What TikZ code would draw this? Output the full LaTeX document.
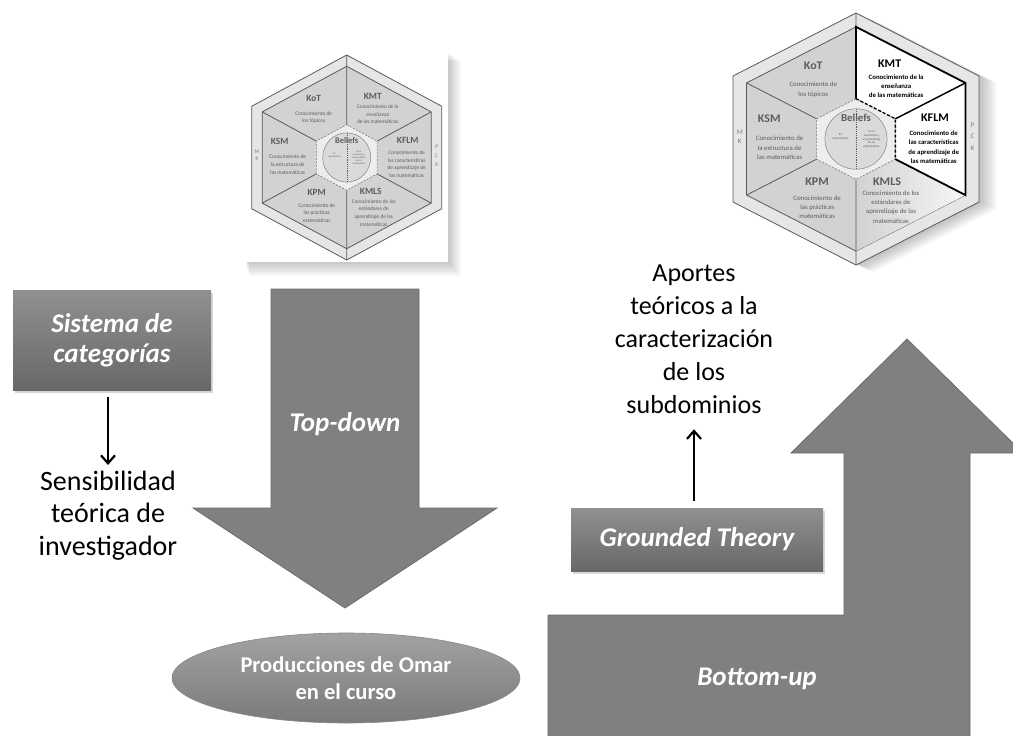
\documentclass[tikz,border=0pt]{standalone}
\usepackage{fontspec}
\setmainfont{Carlito}
\usetikzlibrary{arrows.meta,shapes.geometric,shadows}

\definecolor{arrowgray}{HTML}{808080}
\definecolor{arrowedge}{HTML}{6C6C6C}
\definecolor{boxtop}{HTML}{909090}
\definecolor{boxbot}{HTML}{686868}
\definecolor{ovaltop}{HTML}{A2A2A2}
\definecolor{ovalbot}{HTML}{7A7A7A}
\definecolor{hexband}{HTML}{E6E6E6}
\definecolor{hexfill}{HTML}{D2D2D2}
\definecolor{hexline}{HTML}{5A5A5A}
\definecolor{hexcore}{HTML}{EDEDED}
\definecolor{hexcircle}{HTML}{DADADA}
\definecolor{hextext}{HTML}{5C5C5C}

% MTSK hexagon: #1,#2 centre, #3,#4 x/y scale, #5 = 1 highlights KMT and KFLM, #6 name prefix
\newcommand\mtskhex[6]{%
\begin{scope}[shift={(#1,#2)}, xscale=#3, yscale=#4, transform shape]
  \ifnum#5=1
    \tikzset{hllabel/.style={text=black}, hldesc/.style={text=black, font=\bfseries\fontsize{5.3}{7.4}\selectfont}}
    \foreach \k in {1,...,8}
      \fill[black, opacity=0.03] (\k*1.7,-100+\k*0.7)--(95+\k*1.7,-50+\k*0.7)--(95+\k*1.7,50+\k*0.7)
        --(\k*1.7,100+\k*0.7)--(-95+\k*1.7,50+\k*0.7)--(-95+\k*1.7,-50+\k*0.7)--cycle;
  \else
    \tikzset{hllabel/.style={}, hldesc/.style={}}
  \fi
  % outer band and inner field
  \filldraw[fill=hexband, draw=hexline, line width=0.8pt]
    (0,-100)--(95,-50)--(95,50)--(0,100)--(-95,50)--(-95,-50)--cycle;
  \filldraw[fill=hexfill, draw=hexline, line width=0.8pt]
    (0,-89)--(84.5,-44.5)--(84.5,44.5)--(0,89)--(-84.5,44.5)--(-84.5,-44.5)--cycle;
  \ifnum#5=1
    \fill[white] (0,-32)--(0,-89)--(84.5,-44.5)--(84.5,44.5)--(30.4,16)--(30.4,-16)--cycle;
    \shade[left color=hexfill, right color=white!80!hexfill]
      (30.4,16)--(84.5,44.5)--(0,89)--(0,32)--cycle;
  \fi
  % spokes between the subdomains
  \draw[hexline, line width=0.8pt]
    (0,-100)--(0,-32) (84.5,-44.5)--(30.4,-16) (84.5,44.5)--(30.4,16)
    (0,100)--(0,32) (-84.5,44.5)--(-30.4,16) (-84.5,-44.5)--(-30.4,-16);
  % beliefs core
  \filldraw[fill=hexcore, draw=hexline!85, line width=0.6pt, dash pattern=on 2pt off 1.5pt]
    (0,-32)--(30.4,-16)--(30.4,16)--(0,32)--(-30.4,16)--(-30.4,-16)--cycle;
  \filldraw[fill=hexcircle, draw=hexline!75, line width=0.5pt] (0,0) circle (24);
  \draw[hexline, line width=0.4pt, dash pattern=on 1.2pt off 1pt] (0,-24)--(0,24);
  \ifnum#5=1
    \draw[black, line width=1.8pt, line join=miter]
      (0,-32)--(0,-89)--(84.5,-44.5)--(84.5,44.5)--(30.4,16);
    \draw[black, line width=1.4pt] (84.5,-44.5)--(30.4,-16);
    \draw[black, line width=1.3pt, dash pattern=on 3pt off 2pt] (0,-32)--(30.4,-16)--(30.4,16);
  \fi
  % subdomain texts
  \node[hexlabel] (#6-kot) at (-33,-58) {KoT};
  \node[hexdesc] (#6-kotd) at (-33,-39) {Conocimiento de\\los tópicos};
  \node[hexlabel,hllabel] (#6-kmt) at (26,-60) {KMT};
  \node[hexdesc,hldesc] (#6-kmtd) at (31,-42) {Conocimiento de la\\enseñanza\\de las matemáticas};
  \node[hexlabel] (#6-ksm) at (-67,-16) {KSM};
  \node[hexdesc] (#6-ksmd) at (-59,7) {Conocimiento de\\la estructura de\\las matemáticas};
  \node[hexlabel,hllabel] (#6-kflm) at (61,-17) {KFLM};
  \node[hexdesc,hldesc] (#6-kflmd) at (60,6.5) {Conocimiento de\\las características\\de aprendizaje de\\las matemáticas};
  \node[hexlabel] (#6-kpm) at (-30,34) {KPM};
  \node[hexdesc] (#6-kpmd) at (-30,54) {Conocimiento de\\las prácticas\\matemáticas};
  \node[hexlabel] (#6-kmls) at (24,33.5) {KMLS};
  \node[hexdesc] (#6-kmlsd) at (27,54) {Conocimiento de los\\estándares de\\aprendizaje de las\\matemáticas};
  \node[belief] (#6-bel) at (0,-17) {Beliefs};
  \node[tinytext] (#6-bm) at (-12,-2) {En\\matemáticas};
  \node[tinytext] (#6-be) at (12,0) {En la\\enseñanza y\\el aprendizaje\\de las\\matemáticas};
  \node[bandtext] (#6-mk) at (-89.7,-2) {M\\K};
  \node[bandtext, font=\fontsize{5.5}{9}\selectfont] (#6-pck) at (90,-2) {P\\C\\K};
\end{scope}}

\begin{document}
\begin{tikzpicture}[x=1pt, y=-1pt,
  bigarrow/.style={fill=arrowgray, draw=arrowedge, line width=0.8pt, line join=miter},
  catbox/.style={rectangle, top color=boxtop, bottom color=boxbot, text=white,
    font=\bfseries\itshape\fontsize{27}{30}\selectfont, align=center, inner sep=0pt,
    drop shadow={shadow xshift=1.5pt, shadow yshift=-2.5pt, opacity=0.3}},
  arrowtext/.style={text=white, font=\bfseries\itshape\fontsize{27}{30}\selectfont, inner sep=0pt},
  plaintext/.style={align=center, inner sep=0pt, text=black},
  link/.style={line width=2.2pt, -{Straight Barb[length=8pt,width=14pt,line width=2.2pt]}},
  hexlabel/.style={font=\bfseries\fontsize{9.3}{10}\selectfont, text=hextext, inner sep=0pt},
  hexdesc/.style={font=\fontsize{5.3}{7.4}\selectfont, text=hextext, align=center, inner sep=0pt},
  belief/.style={font=\bfseries\fontsize{8.4}{9}\selectfont, text=hextext, inner sep=0pt},
  tinytext/.style={font=\fontsize{2.4}{3}\selectfont, text=hextext, align=center, inner sep=0pt},
  bandtext/.style={font=\fontsize{5.5}{7}\selectfont, text=hextext!80, align=center, inner sep=0pt}]
\useasboundingbox (0,0) rectangle (1013,736);
\fill[white] (0,0) rectangle (1013,736);
\begin{scope}
\clip (0,0) rectangle (1013,736);

% framed model picture with soft shadow
\foreach \k in {1,...,7}
  \fill[black, opacity=0.03] (245+\k*0.6,52+\k*1.3) rectangle (448+\k*1.8,262+\k*2);
\fill[white] (245,52) rectangle (448,262);
\mtskhex{346.7}{157.5}{1}{1.025}{0}{lh}

% model with the highlighted subdomains
\mtskhex{856}{139}{1.295}{1.26}{1}{rh}

% top-down arrow
\draw[bigarrow] (271,289)--(419,289)--(419,508)--(497,508)--(345,608)--(193,508)--(271,508)--cycle;
\node[arrowtext, anchor=base] (td) at (345,431.7) {Top-down};

% bottom-up arrow
\draw[bigarrow] (548,745)--(548,615)--(844,615)--(844,453)--(791,453)--(907,339)--(1023,453)
  --(970,453)--(970,745)--cycle;
\node[arrowtext, anchor=base] (bu) at (757,685) {Bottom-up};

% boxes and texts
\node[catbox, minimum width=198pt, minimum height=100pt] (sis) at (112,340) {Sistema de\\categorías};
\node[plaintext, font=\fontsize{28}{32.7}\selectfont, anchor=north] (sens) at (108,470.5)
  {Sensibilidad\\teórica de\\investigador};
\draw[link, shorten <=7pt, shorten >=5.5pt] (sis.south -| sens.north) -- (sens.north);

\node[catbox, minimum width=252pt, minimum height=63pt] (gt) at (697,539.5) {Grounded Theory};
\node[plaintext, font=\fontsize{26}{33}\selectfont, anchor=north] (ap) at (694,265)
  {Aportes\\teóricos a la\\caracterización\\de los\\subdominios};
\draw[link, shorten <=7pt, shorten >=15pt] (gt.north -| ap.south) -- (ap.south);

\node[ellipse, minimum width=348pt, minimum height=90pt, inner sep=0pt,
  top color=ovaltop, bottom color=ovalbot, draw=ovalbot!90, line width=0.6pt,
  text=white, font=\bfseries\fontsize{22.5}{27}\selectfont, align=center] (prod) at (346,678)
  {Producciones de Omar\\en el curso};
\end{scope}
\end{tikzpicture}
\end{document}
